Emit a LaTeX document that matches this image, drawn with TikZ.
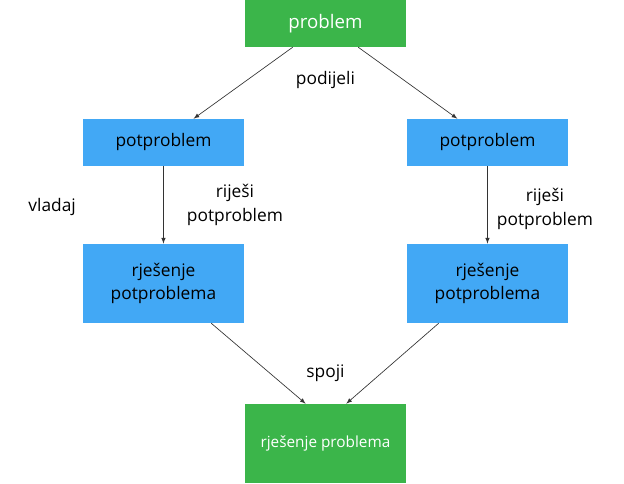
\documentclass[tikz,border=0pt]{standalone}
\usepackage{fontspec}
\setmainfont{Open Sans}
\usepackage{xcolor}
\usetikzlibrary{positioning}
\definecolor{boxgreen}{RGB}{59,181,74}
\definecolor{boxblue}{RGB}{66,168,245}

\begin{document}
\begin{tikzpicture}[
      greenblock/.style={rectangle, fill=boxgreen, text=white, text centered, minimum width=120.75pt, minimum height=35.25pt, inner sep=0pt},
      block/.style={rectangle, fill=boxblue, text width=110pt, align=center, minimum width=120.75pt, minimum height=35.25pt, inner sep=0pt, font=\fontsize{13}{17.5}\selectfont},
      tag/.style={align=center, font=\fontsize{13}{18}\selectfont},
      line/.style={draw, black!80, line width=0.5pt, -latex}
    ]
    \useasboundingbox (-244.1pt,17.6pt) rectangle (223.9pt,-345.4pt);

    \node [greenblock, font=\fontsize{14}{17}\selectfont] (problem) {problem};
    \node [block, below of=problem, node distance=89.25pt, xshift=-121.5pt] (subleft) {potproblem};
    \node [block, below of=problem, node distance=89.25pt, xshift=121.5pt] (subright) {potproblem};
    \node [block, below of=subleft, node distance=105.75pt, minimum height=59.25pt] (solleft) {rješenje\\potproblema};
    \node [block, below of=subright, node distance=105.75pt, minimum height=59.25pt] (solright) {rješenje\\potproblema};
    \node [greenblock, below of=problem, node distance=315pt, minimum height=59.25pt, font=\fontsize{11.5}{14}\selectfont] (final) {rješenje problema};

    \node [tag] (divide) at (0pt,-42.75pt) {podijeli};
    \node [tag] (conquer) at (-205pt,-137.6pt) {vladaj};
    \node [tag] (solveleft) at (-67.9pt,-136.1pt) {riješi\\potproblem};
    \node [tag] (solveright) at (164.6pt,-139pt) {riješi\\potproblem};
    \node [tag] (merge) at (0pt,-262pt) {spoji};

    \path [line] ([xshift=36pt]problem.south west) -- ([xshift=-38pt]subleft.north east);
    \path [line] ([xshift=-36pt]problem.south east) -- ([xshift=38pt]subright.north west);
    \path [line] (subleft) -- (solleft);
    \path [line] (subright) -- (solright);
    \path [line] ([xshift=-24.75pt]solleft.south east) -- ([xshift=45.75pt]final.north west);
    \path [line] ([xshift=24pt]solright.south west) -- ([xshift=-45pt]final.north east);

    \end{tikzpicture}
\end{document}
